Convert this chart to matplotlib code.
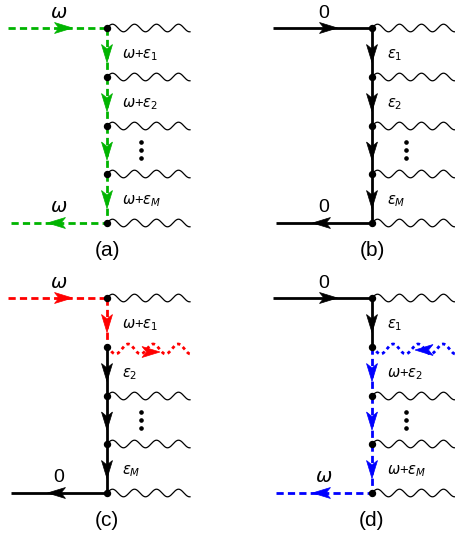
import numpy as np
import matplotlib
matplotlib.use('Agg')
import matplotlib.pyplot as plt
from matplotlib.patches import Polygon

plt.rcParams['font.family'] = ['Liberation Sans', 'DejaVu Sans']
plt.rcParams['mathtext.fontset'] = 'dejavusans'

# diagram content
panel_names = ['(a)', '(b)', '(c)', '(d)']
in_labels = [r'$\omega$', '0', r'$\omega$', '0']
out_labels = [r'$\omega$', '0', '0', r'$\omega$']
seg_labels = [
    [r'$\omega$+$\epsilon_1$', r'$\omega$+$\epsilon_2$', None, r'$\omega$+$\epsilon_M$'],
    [r'$\epsilon_1$', r'$\epsilon_2$', None, r'$\epsilon_M$'],
    [r'$\omega$+$\epsilon_1$', r'$\epsilon_2$', None, r'$\epsilon_M$'],
    [r'$\epsilon_1$', r'$\omega$+$\epsilon_2$', None, r'$\omega$+$\epsilon_M$'],
]
# colour of in-line, 4 vertical segments, out-line (None = black solid)
GREEN, RED, BLUE = '#00b400', '#ff0000', '#0000ff'
in_cols = [GREEN, None, RED, None]
seg_cols = [
    [GREEN, GREEN, GREEN, GREEN],
    [None, None, None, None],
    [RED, None, None, None],
    [None, BLUE, BLUE, BLUE],
]
out_cols = [GREEN, None, None, BLUE]
# emitted / absorbed photon at vertex 2 : (colour, direction)
special_wave = [None, None, (RED, 1), (BLUE, -1)]

# layout (pixels)
origins = [(0, 0), (265, 0), (0, 270), (265, 270)]
vert_y = np.array([28, 77, 126, 174, 223])
vx = 107
x_start = 8
wave_len = 83


def arrowhead(ax, x, y, dx, dy, color, L=18, W=11):
    d = np.array([dx, dy], float)
    d /= np.hypot(*d)
    n = np.array([-d[1], d[0]])
    c = np.array([x, y], float)
    tip = c + d * L / 2
    back = c - d * L / 2
    pts = [tip, back + n * W / 2, c - d * L * 0.25, back - n * W / 2]
    ax.add_patch(Polygon(pts, closed=True, fc=color, ec=color, lw=0.5, zorder=5))


def line(ax, xs, ys, col):
    if col is None:
        ax.plot(xs, ys, color='black', lw=2.0, solid_capstyle='butt', zorder=3)
    else:
        ax.plot(xs, ys, color=col, lw=2.0, ls=(0, (2.6, 1.5)), zorder=3)


fig = plt.figure(figsize=(4.55, 5.41), dpi=100)
ax = fig.add_axes([0, 0, 1, 1])
ax.set_xlim(0, 455)
ax.set_ylim(541, 0)
ax.axis('off')

for p in range(4):
    ox, oy = origins[p]
    X = ox + vx
    ys = oy + vert_y
    x0 = ox + x_start

    # incoming line
    c = in_cols[p]
    line(ax, [x0, X], [ys[0], ys[0]], c)
    arrowhead(ax, (x0 + X) / 2 + 6, ys[0], 1, 0, c or 'black')
    ax.text((x0 + X) / 2 + 1, ys[0] - 15, in_labels[p], fontsize=14, ha='center', va='center')

    # outgoing line
    c = out_cols[p]
    line(ax, [x0 + 3, X], [ys[-1], ys[-1]], c)
    arrowhead(ax, (x0 + X) / 2 - 1, ys[-1], -1, 0, c or 'black')
    ax.text((x0 + X) / 2 + 1, ys[-1] - 15, out_labels[p], fontsize=14, ha='center', va='center')

    # vertical propagator
    for k in range(4):
        c = seg_cols[p][k]
        line(ax, [X, X], [ys[k], ys[k + 1]], c)
        arrowhead(ax, X, (ys[k] + ys[k + 1]) / 2 + 1, 0, 1, c or 'black')
        lab = seg_labels[p][k]
        if lab is not None:
            ax.text(X + 15, (ys[k] + ys[k + 1]) / 2 + 3, lab, fontsize=10.5, ha='left', va='center')
        else:
            ym = (ys[k] + ys[k + 1]) / 2
            ax.plot([X + 34] * 3, [ym - 8, ym, ym + 8], 'o', color='black', ms=2.3, zorder=4)

    # photon lines
    for k in range(5):
        xs = np.linspace(X, X + wave_len, 300)
        if k == 1 and special_wave[p] is not None:
            col, direc = special_wave[p]
            wy = ys[k] + 2 + 5 * np.sin(2 * np.pi * (xs - X) / 25 - 0.6)
            ax.plot(xs, wy, color=col, lw=2.0, ls=(0, (1.2, 1.2)), zorder=3)
            if direc > 0:
                arrowhead(ax, X + 44, ys[k] + 5, 1, 0, col)
            else:
                arrowhead(ax, X + 52, ys[k] + 3, -1, 0, col)
        else:
            wy = ys[k] - 3.8 * np.sin(2 * np.pi * (xs - X) / 22)
            ax.plot(xs, wy, color='black', lw=0.9, zorder=2)

    # vertices
    ax.plot([X] * 5, ys, 'o', color='black', ms=4.3, zorder=6)

    # panel name
    ax.text(X, oy + 251, panel_names[p], fontsize=15, ha='center', va='center')

fig.savefig('out.png', dpi=100)
